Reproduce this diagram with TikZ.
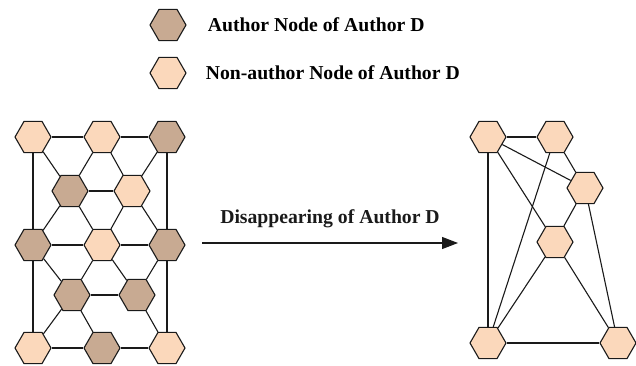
\documentclass[tikz,border=0pt]{standalone}
\usepackage{fontspec}
\setmainfont{Liberation Serif}
\usepackage{tikz}
\usepackage{xcolor}
\usetikzlibrary{positioning, shapes.geometric, arrows.meta}

\definecolor{authorfill}{HTML}{C8AA92}
\definecolor{otherfill}{HTML}{FBD8BB}
\definecolor{edgegray}{HTML}{1A1A1A}

\tikzset{
  hexnode/.style={regular polygon, regular polygon sides=6, draw=edgegray, line width=1.1pt, minimum size=36pt, inner sep=0pt},
  author/.style={hexnode, fill=authorfill},
  nonauthor/.style={hexnode, fill=otherfill},
  link/.style={edgegray, line width=1.1pt},
  legendtext/.style={inner sep=0pt, font=\fontsize{19.7}{23}\selectfont\bfseries}
}

\begin{document}
\begin{tikzpicture}[x=1pt, y=-1pt]
            \useasboundingbox (0,0) rectangle (636,365);

            % legend
            \node[author] (legA) at (168, 25) {};
            \node[nonauthor] (legN) at (168, 73) {};
            \node[legendtext, right=21pt of legA] (legAtext) {Author Node of Author D};
            \node[legendtext, right=19pt of legN] (legNtext) {Non-author Node of Author D};

            % before
            \node[nonauthor] (l11) at (33, 137) {};
            \node[nonauthor] (l12) at (102, 137) {};
            \node[author] (l13) at (167, 137) {};
            \node[author] (l21) at (70, 191) {};
            \node[nonauthor] (l22) at (132, 191) {};
            \node[author] (l31) at (33, 245) {};
            \node[nonauthor] (l32) at (102, 245) {};
            \node[author] (l33) at (167, 245) {};
            \node[author] (l41) at (72, 295) {};
            \node[author] (l42) at (137, 295) {};
            \node[nonauthor] (l51) at (33, 348) {};
            \node[author] (l52) at (102, 348) {};
            \node[nonauthor] (l53) at (167, 348) {};

            \draw[link] (l11) -- (l12);
            \draw[link] (l12) -- (l13);
            \draw[link] (l11) -- (l31);
            \draw[link] (l31) -- (l51);
            \draw[link] (l13) -- (l33);
            \draw[link] (l33) -- (l53);
            \draw[link] (l11) -- (l21);
            \draw[link] (l12) -- (l21);
            \draw[link] (l12) -- (l22);
            \draw[link] (l13) -- (l22);
            \draw[link] (l21) -- (l22);
            \draw[link] (l21) -- (l31);
            \draw[link] (l21) -- (l32);
            \draw[link] (l22) -- (l32);
            \draw[link] (l22) -- (l33);
            \draw[link] (l31) -- (l32);
            \draw[link] (l32) -- (l33);
            \draw[link] (l31) -- (l41);
            \draw[link] (l32) -- (l41);
            \draw[link] (l32) -- (l42);
            \draw[link] (l33) -- (l42);
            \draw[link] (l41) -- (l42);
            \draw[link] (l41) -- (l51);
            \draw[link] (l41) -- (l52);
            \draw[link] (l42) -- (l53);
            \draw[link] (l51) -- (l52);
            \draw[link] (l52) -- (l53);

            % transition
            \coordinate (arrS) at (202, 243);
            \coordinate (arrE) at (458, 243);
            \draw[link, -{Triangle[length=16pt, width=12pt]}] (arrS) -- node[legendtext, above=15pt] (arrtext) {Disappearing of Author D} (arrE);

            % after
            \node[nonauthor] (ra) at (488, 137) {};
            \node[nonauthor] (rb) at (555, 137) {};
            \node[nonauthor] (rc) at (585, 188) {};
            \node[nonauthor] (rd) at (555, 242) {};
            \node[nonauthor] (re) at (488, 343) {};
            \node[nonauthor] (rf) at (618, 343) {};

            \draw[link] (ra) -- (rb);
            \draw[link] (ra) -- (re);
            \draw[link] (ra) -- (rc);
            \draw[link] (ra) -- (rd);
            \draw[link] (rb) -- (re);
            \draw[link] (rb) -- (rc);
            \draw[link] (rc) -- (rd);
            \draw[link] (rc) -- (rf);
            \draw[link] (rd) -- (re);
            \draw[link] (rd) -- (rf);
            \draw[link] (re) -- (rf);
        \end{tikzpicture}
\end{document}
